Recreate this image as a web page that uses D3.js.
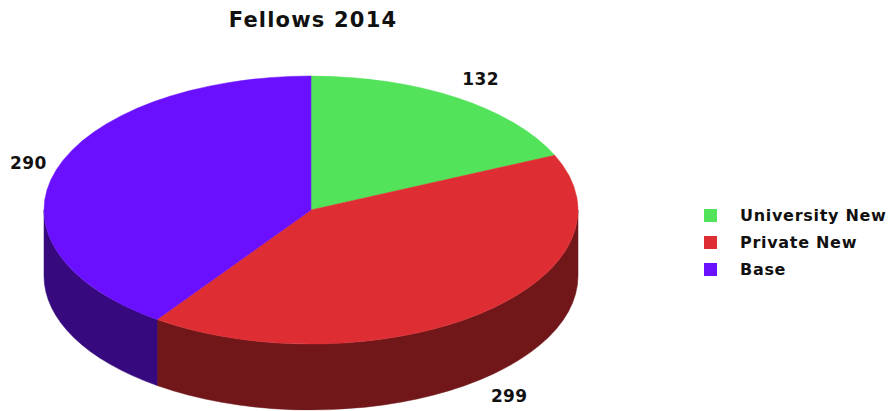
<!DOCTYPE html>
<html>
<head>
<meta charset="utf-8">
<script src="https://cdn.jsdelivr.net/npm/d3@7/dist/d3.min.js"></script>
<style>
  body { margin: 0; background: #fff; }
  text { font-family: "DejaVu Sans", Verdana, sans-serif; font-weight: bold; fill: #111; }
</style>
</head>
<body>
<div id="chart"></div>
<script>

var categories = ["University New", "Private New", "Base"];
var values = [132, 299, 290];
var topColors = ["#52e35a", "#df2e33", "#6a10ff"];
var sideColors = ["#2a7a2e", "#71171a", "#360a7e"];

var width = 889, height = 411;

var pie3d = { cx: 311, cy: 210, rx: 267, ry: 134, depth: 66 };

var svg = d3.select("#chart").append("svg")
    .attr("width", width)
    .attr("height", height);

var color = d3.scaleOrdinal().domain(categories).range(topColors);
var sideColor = d3.scaleOrdinal().domain(categories).range(sideColors);

var data = categories.map(function (c, i) { return { name: c, value: values[i] }; });

var arcs = d3.pie()
    .sort(null)
    .value(function (d) { return d.value; })
    .startAngle(0)
    .endAngle(2 * Math.PI)(data);

function pt(a, dy) {
    return [pie3d.cx + pie3d.rx * Math.sin(a), pie3d.cy - pie3d.ry * Math.cos(a) + (dy || 0)];
}

function topPath(d) {
    var p0 = pt(d.startAngle), p1 = pt(d.endAngle);
    var large = (d.endAngle - d.startAngle) > Math.PI ? 1 : 0;
    return "M" + pie3d.cx + "," + pie3d.cy + "L" + p0 + "A" + pie3d.rx + "," + pie3d.ry +
        " 0 " + large + " 1 " + p1 + "Z";
}

function sidePath(d) {
    var s = Math.max(d.startAngle, Math.PI / 2);
    var e = Math.min(d.endAngle, 3 * Math.PI / 2);
    if (e <= s) return null;
    var p0 = pt(s), p1 = pt(e), q1 = pt(e, pie3d.depth), q0 = pt(s, pie3d.depth);
    return "M" + p0 + "A" + pie3d.rx + "," + pie3d.ry + " 0 0 1 " + p1 +
        "L" + q1 + "A" + pie3d.rx + "," + pie3d.ry + " 0 0 0 " + q0 + "Z";
}

// side walls first
svg.append("g").selectAll("path")
    .data(arcs.filter(function (d) { return sidePath(d) !== null; }))
    .enter().append("path")
    .attr("d", sidePath)
    .attr("fill", function (d) { return sideColor(d.data.name); })
    .attr("stroke", function (d) { return sideColor(d.data.name); })
    .attr("stroke-width", 0.5);

// top faces
svg.append("g").selectAll("path")
    .data(arcs).enter()
    .append("path")
    .attr("d", topPath)
    .attr("fill", function (d) { return color(d.data.name); })
    .attr("stroke", function (d) { return color(d.data.name); })
    .attr("stroke-width", 0.5);

// value labels, pushed out from the rim and kept inside the page
svg.append("g").selectAll("text")
    .data(arcs).enter()
    .append("text")
    .attr("y", function (d) {
        var a = (d.startAngle + d.endAngle) / 2;
        var y = pie3d.cy - (pie3d.ry + 22) * Math.cos(a);
        if (Math.cos(a) < 0) y += pie3d.depth;
        return y + 6;
    })
    .attr("text-anchor", "middle")
    .style("font-size", "17px")
    .style("letter-spacing", "0.4px")
    .text(function (d) { return d.data.value; })
    .attr("x", function (d) {
        var a = (d.startAngle + d.endAngle) / 2;
        var x = pie3d.cx + (pie3d.rx + 45) * Math.sin(a);
        var half = this.getComputedTextLength() / 2;
        return Math.max(10 + half, Math.min(width - 10 - half, x));
    });

svg.append("text")
    .attr("x", 313)
    .attr("y", 27)
    .attr("text-anchor", "middle")
    .style("font-size", "21px")
    .style("letter-spacing", "1.2px")
    .text("Fellows 2014");

var legend = svg.append("g").attr("transform", "translate(704,209)");
var item = legend.selectAll("g")
    .data(categories).enter()
    .append("g")
    .attr("transform", function (d, i) { return "translate(0," + (i * 27) + ")"; });
item.append("rect")
    .attr("width", 13).attr("height", 13)
    .attr("fill", function (d) { return color(d); });
item.append("text")
    .attr("x", 36).attr("y", 12)
    .style("font-size", "16px")
    .style("letter-spacing", "0.7px")
    .text(function (d) { return d; });

</script>
</body>
</html>
